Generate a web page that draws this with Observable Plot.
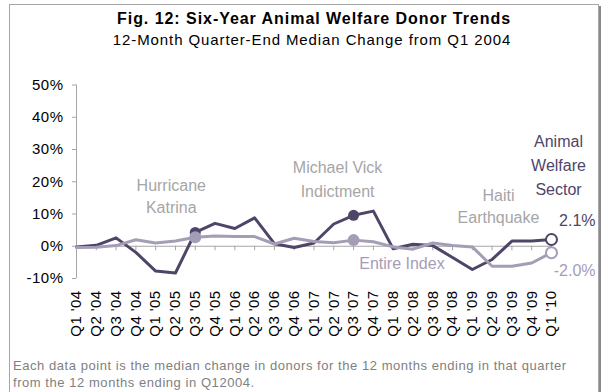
<!DOCTYPE html>
<html><head><meta charset="utf-8">
<script src="https://cdn.jsdelivr.net/npm/d3@7"></script>
<script src="https://cdn.jsdelivr.net/npm/@observablehq/plot@0.6"></script>
<style>
body{margin:0;background:#fff;overflow:hidden;font-family:"Liberation Sans",Arial,sans-serif;}
#wrap{position:relative;width:602px;height:392px;overflow:hidden;background:#fff;}
#frame{position:absolute;left:9px;top:4px;width:588px;height:430px;border:1px solid #a6a6a6;box-shadow:2px 2px 0 #8a8a8a;}
#title{position:absolute;left:0;top:10.5px;width:628px;text-align:center;font-weight:bold;font-size:16px;line-height:16px;letter-spacing:0.95px;color:#000;white-space:nowrap;}
#subtitle{position:absolute;left:0;top:32.3px;width:624px;text-align:center;font-size:15px;line-height:15px;letter-spacing:0.9px;color:#000;white-space:nowrap;}
#chart{position:absolute;left:0;top:55px;}
#caption{position:absolute;left:13px;top:357px;font-size:13px;line-height:17px;letter-spacing:0.55px;color:#808080;white-space:nowrap;}
g[aria-label="x-axis tick label"] text{letter-spacing:0.4px;}
g[aria-label="y-axis tick label"] text{letter-spacing:0.5px;}
</style>
</head><body>
<div id="wrap">
  <div id="frame"></div>
  <div id="title">Fig. 12: Six-Year Animal Welfare Donor Trends</div>
  <div id="subtitle">12-Month Quarter-End Median Change from Q1 2004</div>
  <div id="chart"></div>
  <div id="caption">Each data point is the median change in donors for the 12 months ending in that quarter<br>from the 12 months ending in Q12004.</div>
</div>
<script>
const quarters = ["Q1 '04","Q2 '04","Q3 '04","Q4 '04","Q1 '05","Q2 '05","Q3 '05","Q4 '05","Q1 '06","Q2 '06","Q3 '06","Q4 '06","Q1 '07","Q2 '07","Q3 '07","Q4 '07","Q1 '08","Q2 '08","Q3 '08","Q4 '08","Q1 '09","Q2 '09","Q3 '09","Q4 '09","Q1 '10"];
const animalWelfare = [-0.2, 0.3, 2.6, -1.9, -7.7, -8.3, 4.3, 7.1, 5.5, 8.8, 0.8, -0.4, 1.0, 6.9, 9.6, 10.9, -0.8, 0.6, 0.2, -3.5, -7.2, -4.1, 1.6, 1.6, 2.1];
const entireIndex = [-0.4, -0.3, 0.2, 2.0, 1.0, 1.6, 2.8, 3.2, 3.0, 3.0, 0.7, 2.5, 1.5, 1.1, 1.9, 1.4, -0.2, -0.9, 1.0, 0.2, -0.2, -6.2, -6.2, -5.2, -2.0];
const yTicks = [-10, 0, 10, 20, 30, 40, 50];
const eventQuarters = ["Q3 '05", "Q3 '07", "Q1 '10"];
const eventLabels = ["Hurricane\nKatrina", "Michael Vick\nIndictment", "Haiti\nEarthquake"];
const seriesLabels = ["Animal\nWelfare\nSector", "Entire Index"];
const labelQuarterEntire = "Q2 '08";

const dark = "#4f4568", light = "#a59db6", axisGrey = "#a6a6a6", noteGrey = "#a6a6a6";
const at = (arr, q) => arr[quarters.indexOf(q)];
const aw = quarters.map((q, i) => ({q, v: animalWelfare[i]}));
const ei = quarters.map((q, i) => ({q, v: entireIndex[i]}));
const lastQ = quarters[quarters.length - 1];
const awHi = aw.filter(d => eventQuarters.slice(0, 2).includes(d.q));
const eiHi = ei.filter(d => eventQuarters.slice(0, 2).includes(d.q));
const awEnd = aw.filter(d => d.q === lastQ);
const eiEnd = ei.filter(d => d.q === lastQ);
const pct = v => v.toFixed(1) + "%";

const note = (q, series, text, opts) => Plot.text([text], {
  x: () => q, y: () => at(series, q), text: d => d,
  lineAnchor: "bottom", fontSize: 16, ...opts
});

const chart = Plot.plot({
  width: 602, height: 290,
  marginLeft: 76, marginRight: 51, marginTop: 29.5, marginBottom: 67,
  style: {fontFamily: "'Liberation Sans', Arial, sans-serif", fontSize: "15px", background: "transparent", overflow: "visible", color: "#000"},
  x: {type: "point", domain: quarters, padding: 0, round: false},
  y: {domain: [-10, 50]},
  marks: [
    Plot.ruleY([0], {stroke: axisGrey, strokeWidth: 1}),
    Plot.ruleX(quarters, {x: d => d, y1: 0, y2: -1.4, stroke: axisGrey}),
    Plot.ruleX([quarters[0]], {x: d => d, y1: -10, y2: 50, stroke: axisGrey}),
    Plot.axisY({ticks: yTicks, tickFormat: d => d + "%", tickSize: 4, tickPadding: 9, stroke: axisGrey, fill: "#000", label: null, fontSize: 15}),
    Plot.axisX({tickRotate: -90, tickSize: 0, tickPadding: 12, label: null, fill: "#000", fontSize: 15}),
    Plot.line(aw, {x: "q", y: "v", stroke: dark, strokeWidth: 3}),
    Plot.line(ei, {x: "q", y: "v", stroke: light, strokeWidth: 3}),
    Plot.dot(awHi, {x: "q", y: "v", r: 5.5, fill: dark}),
    Plot.dot(eiHi, {x: "q", y: "v", r: 6, fill: light}),
    Plot.dot(awEnd, {x: "q", y: "v", r: 5.5, fill: "#fff", stroke: dark, strokeWidth: 2}),
    Plot.dot(eiEnd, {x: "q", y: "v", r: 5.5, fill: "#fff", stroke: light, strokeWidth: 2}),
    note(eventQuarters[0], animalWelfare, eventLabels[0], {dx: -24, dy: -19, lineHeight: 1.375, fill: noteGrey}),
    note(eventQuarters[1], animalWelfare, eventLabels[1], {dx: -16, dy: -18.5, lineHeight: 1.5, fill: noteGrey}),
    note(eventQuarters[2], animalWelfare, eventLabels[2], {dx: -53, dy: -16, lineHeight: 1.375, fill: noteGrey}),
    note(lastQ, animalWelfare, seriesLabels[0], {dx: 7, dy: -44, lineHeight: 1.5, fill: dark}),
    note(lastQ, animalWelfare, pct(at(animalWelfare, lastQ)), {dx: 44, dy: -13, textAnchor: "end", fill: dark}),
    note(labelQuarterEntire, entireIndex, seriesLabels[1], {dx: -11, dy: 20, fill: light}),
    note(lastQ, entireIndex, pct(at(entireIndex, lastQ)), {dx: 44, dy: 23, textAnchor: "end", fill: light})
  ]
});
document.getElementById("chart").appendChild(chart);
</script>
</body></html>
